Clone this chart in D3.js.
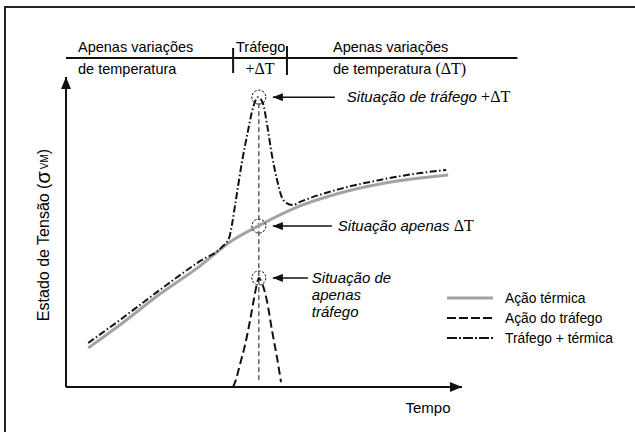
<!DOCTYPE html>
<html>
<head>
<meta charset="utf-8">
<script src="https://cdn.jsdelivr.net/npm/d3@7"></script>
<style>
  body { margin: 0; background: #fff; overflow: hidden; }
  svg { display: block; font-family: 'Liberation Sans', Arial, sans-serif; }
  .serif { font-family: 'Liberation Serif', 'Times New Roman', serif; font-style: normal; }
</style>
</head>
<body>
<svg width="635" height="432"></svg>
<script>
const w = 635;
const h = 432;

// curves (time 0..100, stress 0..100)
const thermalT = [5.6, 13.6, 23.7, 33.8, 41.4, 48.5, 59.1, 69.2, 79.3, 89.4, 96.5];
const thermalS = [12.6, 20.0, 30.0, 39.0, 46.8, 51.9, 58.4, 62.6, 65.5, 67.4, 68.4];

const trafficT = [42.2, 42.9, 43.9, 45.2, 46.5, 47.5, 48.2, 48.7, 49.5, 50.8, 52.0, 53.3, 54.3];
const trafficS = [0, 2.3, 7.1, 13.5, 21.6, 28.7, 33.2, 35.2, 33.5, 27.4, 18.4, 9.4, 1.6];

const combinedT = [5.6, 13.6, 23.7, 33.8, 39.4, 41.2, 41.9, 42.9, 44.4, 46.0, 47.2, 48.5,
  49.7, 50.8, 52.0, 53.3, 54.3, 55.6, 57.3, 59.1, 69.2, 79.3, 89.4, 96.0];
const combinedS = [14.2, 21.6, 31.3, 40.6, 45.2, 48.1, 52.3, 60.3, 72.3, 82.9, 90.0, 93.5,
  91.6, 84.5, 74.8, 66.8, 61.9, 59.4, 58.7, 59.7, 63.9, 66.8, 69.0, 70.0];

// the instant marked by the dashed vertical line and its three situations
const eventT = 48.7;
const situationS = [93.5, 51.9, 35.2];
const situationLabels = [
  ['Situação de tráfego ', '+ΔT'],
  ['Situação apenas ', 'ΔT'],
  ['Situação de', 'apenas', 'tráfego']
];

// header bands along the time axis
const bandBreaks = [0, 42.2, 55.8, 114];
const bandTop = ['Apenas variações', 'Tráfego', 'Apenas variações'];
const bandBottom = ['de temperatura', '+ΔT', 'de temperatura  (ΔT)'];

const legendNames = ['Ação térmica', 'Ação do tráfego', 'Tráfego + térmica'];

const xScale = d3.scaleLinear().domain([0, 100]).range([66, 462]);
const yScale = d3.scaleLinear().domain([0, 100]).range([387, 77]);

const svg = d3.select('svg');

const defs = svg.append('defs');
defs.append('marker')
  .attr('id', 'bigArrow')
  .attr('viewBox', '0 0 12 10')
  .attr('refX', 12).attr('refY', 5)
  .attr('markerWidth', 12).attr('markerHeight', 10)
  .attr('markerUnits', 'userSpaceOnUse')
  .attr('orient', 'auto')
  .append('path').attr('d', 'M0,0 L12,5 L0,10 Z').attr('fill', '#111');
defs.append('marker')
  .attr('id', 'smallArrow')
  .attr('viewBox', '0 0 10 8')
  .attr('refX', 10).attr('refY', 4)
  .attr('markerWidth', 10).attr('markerHeight', 8)
  .attr('markerUnits', 'userSpaceOnUse')
  .attr('orient', 'auto')
  .append('path').attr('d', 'M0,0 L10,4 L0,8 Z').attr('fill', '#111');

// outer frame, only its top and left edge fall inside the window
svg.append('path')
  .attr('d', `M5,${h} L5,7 L${w},7`)
  .attr('fill', 'none')
  .attr('stroke', '#222')
  .attr('stroke-width', 2);

// axes
svg.append('line')
  .attr('x1', xScale(0)).attr('y1', yScale(0))
  .attr('x2', xScale(100)).attr('y2', yScale(0))
  .attr('stroke', '#111').attr('stroke-width', 2)
  .attr('marker-end', 'url(#bigArrow)');
svg.append('line')
  .attr('x1', xScale(0)).attr('y1', yScale(0))
  .attr('x2', xScale(0)).attr('y2', yScale(100))
  .attr('stroke', '#111').attr('stroke-width', 2)
  .attr('marker-end', 'url(#bigArrow)');

svg.append('text')
  .attr('x', 428).attr('y', 413)
  .attr('text-anchor', 'middle')
  .attr('font-size', 15)
  .text('Tempo');

const ylab = svg.append('text')
  .attr('transform', 'translate(49,235) rotate(-90)')
  .attr('text-anchor', 'middle')
  .attr('font-size', 16);
ylab.append('tspan').text('Estado de Tensão (');
ylab.append('tspan').attr('font-size', 20).attr('dy', 1).text('σ');
ylab.append('tspan').attr('font-size', 10).attr('dx', 2).attr('dy', -2).text('VM');
ylab.append('tspan').attr('dy', 1).text(')');

// header bands
const headY = 58;
svg.append('line')
  .attr('x1', xScale(bandBreaks[0])).attr('x2', xScale(bandBreaks[bandBreaks.length - 1]))
  .attr('y1', headY).attr('y2', headY)
  .attr('stroke', '#111').attr('stroke-width', 2);
svg.selectAll('.bandTick')
  .data(bandBreaks.slice(1, -1))
  .enter().append('line')
  .attr('class', 'bandTick')
  .attr('x1', d => xScale(d)).attr('x2', d => xScale(d))
  .attr('y1', (d, i) => i === 0 ? 48 : 46).attr('y2', (d, i) => i === 0 ? 73 : 75)
  .attr('stroke', '#111').attr('stroke-width', 2);
const bandX = [78, 236, 333];
svg.selectAll('.bandTop')
  .data(bandTop)
  .enter().append('text')
  .attr('class', 'bandTop')
  .attr('x', (d, i) => bandX[i]).attr('y', 52)
  .attr('font-size', 14.5)
  .text(d => d);
svg.selectAll('.bandBottom')
  .data(bandBottom)
  .enter().append('text')
  .attr('class', 'bandBottom')
  .attr('x', (d, i) => i === 1 ? (xScale(bandBreaks[1]) + xScale(bandBreaks[2])) / 2 : bandX[i])
  .attr('y', 74)
  .attr('text-anchor', (d, i) => i === 1 ? 'middle' : 'start')
  .attr('font-size', 14.5)
  .each(function (d, i) {
    const t = d3.select(this);
    if (i === 1) {
      t.append('tspan').attr('class', 'serif').attr('font-size', 16).text(d);
    } else if (i === 2) {
      t.append('tspan').text('de temperatura  ');
      t.append('tspan').attr('class', 'serif').attr('font-size', 16).text('(ΔT)');
    } else {
      t.text(d);
    }
  });

const line = d3.line()
  .x(d => xScale(d[0]))
  .y(d => yScale(d[1]))
  .curve(d3.curveMonotoneX);

const thermal = d3.zip(thermalT, thermalS);
const traffic = d3.zip(trafficT, trafficS);
const combined = d3.zip(combinedT, combinedS);

// event vertical line
svg.append('line')
  .attr('x1', xScale(eventT)).attr('x2', xScale(eventT))
  .attr('y1', yScale(situationS[0]) + 6).attr('y2', yScale(2))
  .attr('stroke', '#111').attr('stroke-width', 1)
  .attr('stroke-dasharray', '5,3');

svg.append('path')
  .datum(thermal)
  .attr('d', line)
  .attr('fill', 'none')
  .attr('stroke', '#a3a3a3')
  .attr('stroke-width', 3);

svg.append('path')
  .datum(traffic)
  .attr('d', line)
  .attr('fill', 'none')
  .attr('stroke', '#111')
  .attr('stroke-width', 2)
  .attr('stroke-dasharray', '8,4');

svg.append('path')
  .datum(combined)
  .attr('d', line)
  .attr('fill', 'none')
  .attr('stroke', '#111')
  .attr('stroke-width', 2)
  .attr('stroke-dasharray', '7,2.5,1.5,2.5');

// situation circles
svg.selectAll('.sit')
  .data(situationS)
  .enter().append('circle')
  .attr('class', 'sit')
  .attr('cx', xScale(eventT))
  .attr('cy', d => yScale(d))
  .attr('r', 7)
  .attr('fill', 'none')
  .attr('stroke', '#111')
  .attr('stroke-width', 1)
  .attr('stroke-dasharray', '2.5,1.5');

// annotation arrows and labels
const arrowLen = [62, 59, 35];
const labelGap = [12, 6, 4];
svg.selectAll('.ann')
  .data(situationS)
  .enter().append('line')
  .attr('class', 'ann')
  .attr('x1', (d, i) => xScale(eventT) + 14 + arrowLen[i])
  .attr('x2', xScale(eventT) + 14)
  .attr('y1', d => yScale(d)).attr('y2', d => yScale(d))
  .attr('stroke', '#111').attr('stroke-width', 1.5)
  .attr('marker-end', 'url(#smallArrow)');

situationLabels.forEach((lab, i) => {
  const x0 = xScale(eventT) + 14 + arrowLen[i] + labelGap[i];
  const y0 = yScale(situationS[i]) + 5;
  const t = svg.append('text')
    .attr('x', x0).attr('y', y0)
    .attr('font-size', 15)
    .attr('font-style', 'italic');
  if (i < 2) {
    t.append('tspan').text(lab[0]);
    t.append('tspan').attr('class', 'serif').attr('font-size', 16).text(lab[1]);
  } else {
    lab.forEach((s, k) => {
      t.append('tspan').attr('x', x0).attr('dy', k === 0 ? 0 : 17).text(s);
    });
  }
});

// legend
const legendStyles = [
  { stroke: '#a3a3a3', width: 3, dash: null },
  { stroke: '#111', width: 2, dash: '9,3' },
  { stroke: '#111', width: 2, dash: '10,2,2,2' }
];
const leg = svg.append('g').attr('transform', 'translate(447,298)');
leg.selectAll('line')
  .data(legendNames)
  .enter().append('line')
  .attr('x1', 0).attr('x2', 46)
  .attr('y1', (d, i) => i * 20).attr('y2', (d, i) => i * 20)
  .attr('stroke', (d, i) => legendStyles[i].stroke)
  .attr('stroke-width', (d, i) => legendStyles[i].width)
  .attr('stroke-dasharray', (d, i) => legendStyles[i].dash);
leg.selectAll('text')
  .data(legendNames)
  .enter().append('text')
  .attr('x', 58)
  .attr('y', (d, i) => i * 20 + 5)
  .attr('font-size', 13.8)
  .text(d => d);
</script>
</body>
</html>
